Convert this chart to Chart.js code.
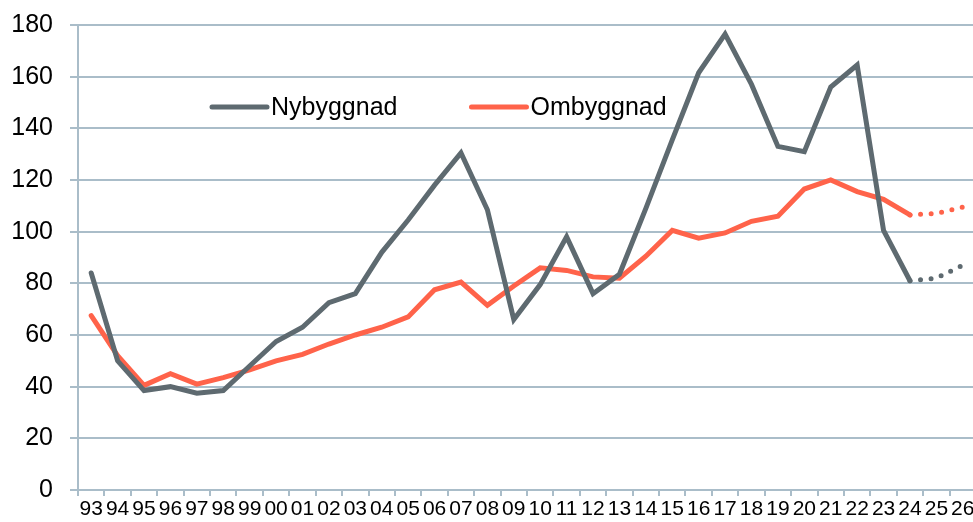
<!DOCTYPE html>
<html>
<head>
<meta charset="utf-8">
<script src="https://cdn.jsdelivr.net/npm/chart.js@4/dist/chart.umd.min.js"></script>
<style>
  html, body { margin: 0; padding: 0; overflow: hidden; background: #ffffff; }
  #wrap { width: 973px; height: 522px; overflow: hidden; position: relative; }
  canvas { display: block; }
</style>
</head>
<body>
<div id="wrap"><canvas id="c" width="980" height="522"></canvas></div>
<script>
const years = ['93','94','95','96','97','98','99','00','01','02','03','04','05','06','07','08','09','10','11','12','13','14','15','16','17','18','19','20','21','22','23','24','25','26'];
const nybyggnad = [84, 50, 38.5, 40, 37.5, 38.5, 48, 57.5, 63, 72.5, 76, 92, 104.5, 118, 130.5, 108.5, 66, 79.5, 98, 76, 83.5, 109, 135.5, 161.5, 176.5, 157, 133, 131, 156, 164.5, 100.5, 81, 82, 87];
const ombyggnad = [67.5, 52, 40.5, 45, 41, 43.5, 46.5, 50, 52.5, 56.5, 60, 63, 67, 77.5, 80.5, 71.5, 79, 86, 85, 82.5, 82, 90.5, 100.5, 97.5, 99.5, 104, 106, 116.5, 120, 115.5, 112.5, 106.5, 107, 109.5];
const seriesNames = ['Nybyggnad', 'Ombyggnad'];
const forecastFrom = '24';
const yTicks = [0, 20, 40, 60, 80, 100, 120, 140, 160, 180];

const GREY = '#5e6a70';
const ORANGE = '#ff634a';
const GRID = '#aabdc9';
const FONT = "'Liberation Sans', Arial, Helvetica, sans-serif";
const forecastIndex = years.indexOf(forecastFrom);

const dotted = ctx => ctx.p0DataIndex >= forecastIndex ? [0, 10.6] : undefined;

const legendPlugin = {
  id: 'innerLegend',
  afterDatasetsDraw(chart) {
    const ctx = chart.ctx;
    const area = chart.chartArea;
    let x = area.left + 134;
    const y = area.top + 82;
    ctx.save();
    ctx.font = '25px ' + FONT;
    ctx.textBaseline = 'middle';
    ctx.textAlign = 'left';
    chart.data.datasets.forEach(ds => {
      ctx.strokeStyle = ds.borderColor;
      ctx.lineWidth = 5;
      ctx.lineCap = 'round';
      ctx.beginPath();
      ctx.moveTo(x, y);
      ctx.lineTo(x + 55, y);
      ctx.stroke();
      ctx.fillStyle = '#000000';
      ctx.fillText(ds.label, x + 59, y + 1);
      x += 59 + ctx.measureText(ds.label).width + 74;
    });
    ctx.restore();
  }
};

new Chart(document.getElementById('c'), {
  type: 'line',
  data: {
    labels: years,
    datasets: [
      {
        label: seriesNames[0],
        data: nybyggnad,
        borderColor: GREY,
        backgroundColor: GREY,
        borderWidth: 5,
        borderCapStyle: 'round',
        borderJoinStyle: 'miter',
        pointRadius: 0,
        tension: 0,
        segment: { borderDash: dotted }
      },
      {
        label: seriesNames[1],
        data: ombyggnad,
        borderColor: ORANGE,
        backgroundColor: ORANGE,
        borderWidth: 5,
        borderCapStyle: 'round',
        borderJoinStyle: 'miter',
        pointRadius: 0,
        tension: 0,
        segment: { borderDash: dotted }
      }
    ]
  },
  options: {
    responsive: false,
    animation: false,
    devicePixelRatio: 1,
    layout: { padding: { top: 25, right: 4, bottom: 0, left: 0 } },
    plugins: {
      legend: { display: false },
      tooltip: { enabled: false }
    },
    scales: {
      x: {
        type: 'category',
        offset: true,
        grid: {
          offset: true,
          drawOnChartArea: false,
          drawTicks: true,
          tickLength: 6,
          color: GRID,
          lineWidth: 2
        },
        border: { display: true, color: GRID, width: 2 },
        ticks: {
          autoSkip: false,
          maxRotation: 0,
          minRotation: 0,
          padding: 1,
          color: '#000000',
          font: { family: FONT, size: 21 }
        },
        afterFit: s => { s.height = 32; s.paddingLeft = 0; s.paddingRight = 0; }
      },
      y: {
        min: 0,
        max: 180,
        afterBuildTicks: s => { s.ticks = yTicks.map(v => ({ value: v })); },
        grid: {
          color: GRID,
          lineWidth: 2,
          drawTicks: true,
          tickLength: 8
        },
        border: { display: true, color: GRID, width: 2 },
        ticks: {
          padding: 17,
          color: '#000000',
          font: { family: FONT, size: 25 }
        },
        afterFit: s => { s.width = 78; s.paddingTop = 0; s.paddingBottom = 0; }
      }
    }
  },
  plugins: [legendPlugin]
});
</script>
</body>
</html>
